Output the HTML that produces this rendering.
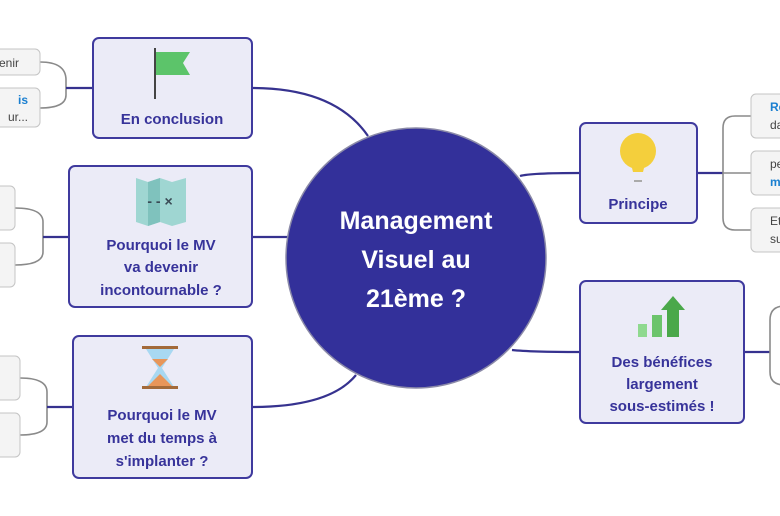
<!DOCTYPE html>
<html><head><meta charset="utf-8"><style>
body{margin:0;background:#fff;}
svg{display:block;font-family:"Liberation Sans","DejaVu Sans",sans-serif;}
.b{fill:#ebebf7;stroke:#3f3a9e;stroke-width:2;}
.t{fill:#37339a;font-weight:bold;font-size:15px;text-anchor:middle;}
.l{fill:#f4f4f4;stroke:#c4c4c4;stroke-width:1;}
.c{fill:none;stroke:#36328f;stroke-width:2.2;}
.g{fill:none;stroke:#8a8a8a;stroke-width:1.6;}
.s{font-size:12px;fill:#444;}
.bl{font-size:12px;fill:#1a7fd0;font-weight:bold;}
</style></head><body>
<svg width="780" height="516" viewBox="0 0 780 516">
<!-- connectors from center -->
<path class="c" d="M252 88 Q335 88 368 136"/>
<path class="c" d="M252 237 L288 237"/>
<path class="c" d="M252 407 Q330 407 356 375"/>
<path class="c" d="M520 176 Q530 173 580 173"/>
<path class="c" d="M512 350 Q530 352 580 352"/>
<!-- left leaf connectors -->
<path class="g" d="M40 62 Q66 62 66 80 L66 95 Q66 108 40 108"/><path class="c" d="M66 88 L93 88"/>
<path class="g" d="M15 208 Q43 208 43 222 L43 252 Q43 265 15 265"/><path class="c" d="M43 237 L69 237"/>
<path class="g" d="M20 378 Q47 378 47 392 L47 422 Q47 435 20 435"/><path class="c" d="M47 407 L73 407"/>
<!-- right leaf connectors -->
<path class="c" d="M697 173 L723 173"/>
<path class="g" d="M751 116 L735 116 Q723 116 723 128 L723 218 Q723 230 735 230 L751 230 M723 173 L751 173"/>
<path class="c" d="M744 352 L770 352"/>
<path class="g" d="M785 306 Q770 306 770 320 L770 372 Q770 385 785 385"/>
<!-- left leaves -->
<rect class="l" x="-10" y="49" width="50" height="26" rx="5"/>
<text class="s" x="-1" y="67">enir</text>
<rect class="l" x="-10" y="88" width="50" height="39" rx="5"/>
<text class="bl" x="18" y="104">is</text><text class="s" x="8" y="121">ur...</text>
<rect class="l" x="-10" y="186" width="25" height="44" rx="5"/>
<rect class="l" x="-10" y="243" width="25" height="44" rx="5"/>
<rect class="l" x="-10" y="356" width="30" height="44" rx="5"/>
<rect class="l" x="-10" y="413" width="30" height="44" rx="5"/>
<!-- right leaves -->
<rect class="l" x="751" y="94" width="40" height="44" rx="5"/>
<text class="bl" x="770" y="111">Re</text><text class="s" x="770" y="129">da</text>
<rect class="l" x="751" y="151" width="40" height="44" rx="5"/>
<text class="s" x="770" y="168">pe</text><text class="bl" x="770" y="186">m</text>
<rect class="l" x="751" y="208" width="40" height="44" rx="5"/>
<text class="s" x="770" y="225">Et</text><text class="s" x="770" y="243">su</text>
<!-- center -->
<circle cx="416" cy="258" r="130" fill="#33309a" stroke="#8b8aa8" stroke-width="1.5"/>
<g fill="#fff" font-weight="bold" font-size="25" text-anchor="middle">
<text x="416" y="229">Management</text><text x="416" y="268">Visuel au</text><text x="416" y="307">21ème ?</text></g>
<!-- En conclusion -->
<rect class="b" x="93" y="38" width="159" height="100" rx="6"/>
<line x1="155" y1="48" x2="155" y2="99" stroke="#444" stroke-width="2"/>
<path d="M156 52 L190 52 L183 63 L190 75 L156 75 Z" fill="#5cc46a"/>
<text class="t" x="172" y="124">En conclusion</text>
<!-- MV devenir -->
<rect class="b" x="69" y="166" width="183" height="141" rx="6"/>
<path d="M136 178 L148 182 L160 178 L172 182 L186 178 L186 222 L172 226 L160 222 L148 226 L136 222 Z" fill="#9fd6d2"/>
<path d="M148 182 L160 178 L160 222 L148 226 Z" fill="#7fc2bd"/>
<text x="160" y="206" font-size="14" fill="#3a4a55" text-anchor="middle" font-weight="bold">- - ×</text>
<text class="t" x="161" y="250">Pourquoi le MV</text><text class="t" x="161" y="272">va devenir</text><text class="t" x="161" y="295">incontournable ?</text>
<!-- temps -->
<rect class="b" x="73" y="336" width="179" height="142" rx="6"/>
<path d="M146 349 L174 349 L162 368 L174 387 L146 387 L158 368 Z" fill="#a8d8f2"/>
<path d="M152 359 L168 359 L160 367 Z M148 386 L160 374 L172 386 Z" fill="#e8965a"/>
<rect x="142" y="346" width="36" height="3" fill="#a36a3a"/><rect x="142" y="386" width="36" height="3" fill="#a36a3a"/>
<text class="t" x="162" y="420">Pourquoi le MV</text><text class="t" x="162" y="443">met du temps à</text><text class="t" x="162" y="466">s'implanter ?</text>
<!-- Principe -->
<rect class="b" x="580" y="123" width="117" height="100" rx="6"/>
<circle cx="638" cy="151" r="18" fill="#f4cf3c"/>
<path d="M630 160 L646 160 L643 172 L633 172 Z" fill="#f4cf3c"/>
<rect x="634" y="180" width="8" height="2" fill="#aaa"/>
<text class="t" x="638" y="209">Principe</text>
<!-- Bénéfices -->
<rect class="b" x="580" y="281" width="164" height="142" rx="6"/>
<rect x="638" y="324" width="9" height="13" fill="#8fd98f"/>
<rect x="652" y="315" width="10" height="22" fill="#6cc46c"/>
<path d="M667 337 L667 310 L661 310 L673 296 L685 310 L679 310 L679 337 Z" fill="#4aa84a"/>
<text class="t" x="662" y="367">Des bénéfices</text><text class="t" x="662" y="389">largement</text><text class="t" x="662" y="411">sous-estimés !</text>
</svg>
</body></html>
